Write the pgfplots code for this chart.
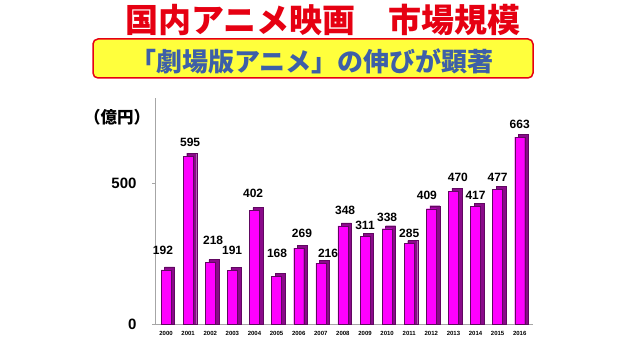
\documentclass[border=0pt]{standalone}
\usepackage{pgfplots}
\pgfplotsset{compat=1.18}
\usepackage{fontspec}
\setmainfont{Liberation Sans}
\newfontfamily\cjk{Noto Sans CJK JP}
\definecolor{barfront}{HTML}{FF00FF}
\definecolor{barside}{HTML}{8A0A8A}
\definecolor{titlered}{HTML}{E60012}
\definecolor{subblue}{HTML}{3D5FA8}
\definecolor{boxyellow}{HTML}{FFFF3C}
\begin{document}
\begin{tikzpicture}[x=1pt,y=1pt]
\useasboundingbox (0,0) rectangle (638,359);
\fill[white] (0,0) rectangle (638,359);
% titles
\node[text=titlered, font=\cjk\bfseries\fontsize{33}{35}\selectfont] at (323,339) {国内アニメ映画　市場規模};
\draw[draw=titlered, line width=1.5pt, fill=boxyellow, rounded corners=5pt] (93,281) rectangle (533,320);
\node[text=subblue, font=\cjk\bfseries\fontsize{26}{28}\selectfont] at (312,298) {「劇場版アニメ」の伸びが顕著};
\node[font=\cjk\bfseries\fontsize{16.5}{18}\selectfont] at (117,242) {（億円）};
\begin{axis}[
  at={(155pt,35pt)}, anchor=south west,
  scale only axis, width=378pt, height=225.6pt,
  xmin=-0.5, xmax=16.6, ymin=0, ymax=800,
  axis y line*=left, axis x line*=bottom,
  axis line style={draw=gray!70, line width=0.8pt},
  /pgf/number format/assume math mode=true,
  ytick={0,500},
  yticklabel style={font=\bfseries\fontsize{15}{17}\selectfont, xshift=-12pt},
  xtick={0,...,16},
  xticklabels={2000,2001,2002,2003,2004,2005,2006,2007,2008,2009,2010,2011,2012,2013,2014,2015,2016},
  xticklabel style={font=\bfseries\fontsize{6}{7}\selectfont, yshift=-1pt},
  xtick style={draw=none},
  ytick style={draw=gray!70},
  tick align=outside, major tick length=3pt,
  clip=false,
]
\addplot[ybar, bar width=10pt, bar shift=3.5pt, fill=barside, draw=barside!70!black, line width=0.3pt]
 coordinates {(0,202.6)(1,605.6)(2,228.6)(3,201.6)(4,412.6)(5,178.6)(6,279.6)(7,226.6)(8,358.6)(9,321.6)(10,348.6)(11,295.6)(12,419.6)(13,480.6)(14,427.6)(15,487.6)(16,673.6)};
\addplot[ybar, bar width=10pt, bar shift=0pt, fill=barfront, draw=barside!70!black, line width=0.3pt]
 coordinates {(0,192)(1,595)(2,218)(3,191)(4,402)(5,168)(6,269)(7,216)(8,348)(9,311)(10,338)(11,285)(12,409)(13,470)(14,417)(15,477)(16,663)};
\addplot[draw=none, mark=none, nodes near coords, point meta=explicit symbolic,
  nodes near coords align={center},
  every node near coord/.append style={font=\bfseries\fontsize{12}{13}\selectfont, inner sep=0pt}]
 table[meta=v] {
x ly v
-0.14 262 192
1.09 645 595
2.13 298 218
2.99 262 191
3.94 465 402
5.02 252 168
6.15 323 269
7.33 252 216
8.1 404 348
9.0 351 311
10.0 379 338
11.0 323 285
11.8 457 409
13.2 521 470
14.0 457 417
15.0 521 477
16.0 709 663
};
\end{axis}
\end{tikzpicture}
\end{document}
